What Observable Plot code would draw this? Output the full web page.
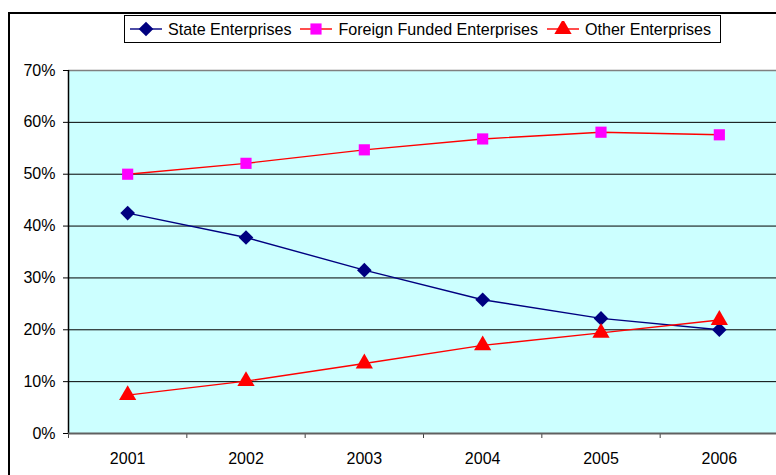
<!DOCTYPE html>
<html><head><meta charset="utf-8">
<script src="https://cdn.jsdelivr.net/npm/d3@7"></script>
<script src="https://cdn.jsdelivr.net/npm/@observablehq/plot@0.6"></script>
<style>
html,body{margin:0;padding:0;background:#fff;overflow:hidden}
#wrap{position:relative;width:776px;height:475px;overflow:hidden;font-family:"Liberation Sans",Arial,sans-serif}
#frame{position:absolute;left:8px;top:12px;width:900px;height:600px;border-left:2px solid #000;border-top:2px solid #000}
#chart{position:absolute;left:0;top:0}
#legend{position:absolute;left:124px;top:15px;width:597px;height:28px;border:1px solid #000;background:#fff;display:flex;align-items:center;box-sizing:border-box;padding-left:4px;font-size:16.1px;color:#000;white-space:nowrap}
#legend .item{display:flex;align-items:center;margin-right:8px}
#legend svg{margin-right:5px}
</style>
</head><body>
<div id="wrap"><div id="frame"></div><div id="chart"></div><div id="legend"></div></div>
<script>
const years = [2001, 2002, 2003, 2004, 2005, 2006];
const stateEnt = [42.5, 37.8, 31.5, 25.8, 22.2, 20.0];
const foreignEnt = [50.0, 52.1, 54.7, 56.8, 58.1, 57.6];
const otherEnt = [7.4, 10.1, 13.5, 17.0, 19.4, 21.9];
const yTicks = [0, 10, 20, 30, 40, 50, 60, 70];
const seriesNames = ["State Enterprises", "Foreign Funded Enterprises", "Other Enterprises"];

const series = [
  {name: seriesNames[0], values: stateEnt, line: "#000080", fill: "#000080", symbol: "diamond2", r: 6.6},
  {name: seriesNames[1], values: foreignEnt, line: "#ff0000", fill: "#ff00ff", symbol: "square", r: 6.3},
  {name: seriesNames[2], values: otherEnt, line: "#ff0000", fill: "#ff0000", symbol: "triangle", r: 6.4}
];
const tables = series.map(s => years.map((yr, i) => ({year: yr, value: s.values[i]})));
const boundaries = [years[0] - 0.5, ...years.map(y => y + 0.5).slice(0, -1)];

const marks = [
  Plot.frame({fill: "#ccffff", stroke: null}),
  Plot.gridY(yTicks.slice(1, -1), {stroke: "#000", strokeOpacity: 1, strokeWidth: 1}),
  Plot.ruleY([yTicks[yTicks.length - 1]], {stroke: "#808080", strokeWidth: 1.5}),
  Plot.axisY({ticks: yTicks, tickFormat: d => d + "%", tickSize: 5, tickPadding: 8, fontSize: 16, fill: "#000", stroke: "#000", label: null}),
  Plot.ruleX([years[0] - 0.5], {stroke: "#000", strokeWidth: 1.5}),
  Plot.axisX({ticks: boundaries, tickFormat: () => "", tickSize: 5, stroke: "#404040", label: null}),
  Plot.axisX({ticks: years, tickFormat: d => String(d), tickSize: 0, tickPadding: 19, fontSize: 16, fill: "#000", label: null}),
  Plot.ruleY([0], {stroke: "#606060", strokeWidth: 2})
];
series.forEach((s, k) => {
  marks.push(Plot.line(tables[k], {x: "year", y: "value", stroke: s.line, strokeWidth: 1.4}));
});
series.forEach((s, k) => {
  marks.push(Plot.dot(tables[k], {x: "year", y: "value", fill: s.fill, stroke: null, symbol: s.symbol, r: s.r}));
});

const chart = Plot.plot({
  width: 778, height: 475,
  marginLeft: 68, marginRight: 0, marginTop: 70, marginBottom: 42,
  style: {background: "transparent", maxWidth: "none", fontFamily: "Liberation Sans, Arial, sans-serif", color: "#000"},
  x: {domain: [years[0] - 0.5, years[years.length - 1] + 0.5], axis: null},
  y: {domain: [yTicks[0], yTicks[yTicks.length - 1]], axis: null},
  marks
});
document.getElementById("chart").appendChild(chart);

// legend
const leg = d3.select("#legend");
const symMap = {diamond2: d3.symbolDiamond2, square: d3.symbolSquare, triangle: d3.symbolTriangle};
series.forEach(s => {
  const it = leg.append("div").attr("class", "item");
  const sv = it.append("svg").attr("width", 34).attr("height", 16);
  sv.append("line").attr("x1", 1).attr("x2", 33).attr("y1", 8).attr("y2", 8).attr("stroke", s.line).attr("stroke-width", 1.4);
  sv.append("path").attr("transform", "translate(17,8)")
    .attr("d", d3.symbol(symMap[s.symbol], Math.PI * s.r * s.r)())
    .attr("fill", s.fill);
  it.append("span").text(s.name);
});
</script>
</body></html>
